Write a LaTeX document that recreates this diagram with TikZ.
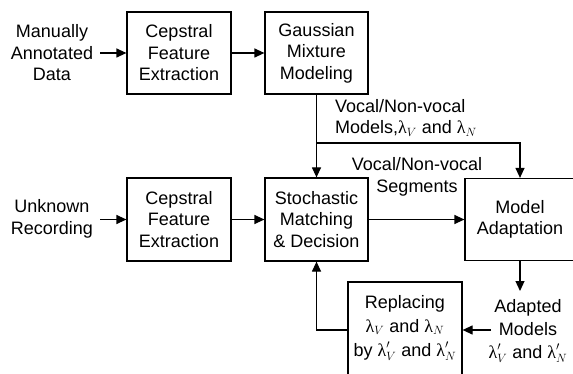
\documentclass[tikz,border=0pt]{standalone}
\usepackage{fontspec}
\setmainfont{Liberation Sans}
\newfontfamily\grk{Liberation Serif}
\usetikzlibrary{arrows.meta}
\newcommand{\lam}[1]{$\mbox{\grk λ}_{#1}$}
\newcommand{\lamp}[1]{$\mbox{\grk λ}'_{#1}$}
\begin{document}
\begin{tikzpicture}[x=1pt,y=-1pt,
  every node/.style={font=\fontsize{18}{21.5}\selectfont},
  blk/.style={draw,line width=1.2pt,minimum width=104pt,minimum height=82pt,align=center,inner sep=0pt},
  txt/.style={align=center,inner sep=0pt},
  arr/.style={line width=1.2pt,-{Triangle[length=10pt,width=9pt]}}]
\useasboundingbox (0,0) rectangle (573,374);
% boxes
\node[blk] (cep1) at (179,53) {Cepstral\\Feature\\Extraction};
\node[blk,minimum width=103pt] (gmm) at (316.5,53) {Gaussian\\Mixture\\Modeling};
\node[blk,minimum height=83pt] (cep2) at (179,219.5) {Cepstral\\Feature\\Extraction};
\node[blk,minimum width=103pt,minimum height=83pt] (stoch) at (316.5,219.5) {Stochastic\\Matching\\\& Decision};
\node[blk,minimum width=110pt,minimum height=82pt] (model) at (520,219.5) {Model\\Adaptation};
\node[draw,line width=1.2pt,minimum width=114pt,minimum height=104pt,inner sep=0pt] (repl) at (405,334) {};
\node[txt,font=\fontsize{18}{24}\selectfont] (repltxt) at (405,328) {Replacing\\\lam{V} and \lam{N}\\by \lamp{V} and \lamp{N}};
% free texts
\node[txt] (manual) at (52,53) {Manually\\Annotated\\Data};
\node[txt] (unknown) at (52,219) {Unknown\\Recording};
\node[txt,align=left,anchor=west] (lab1) at (335,118) {Vocal/Non-vocal\\Models,\lam{V} and \lam{N}};
\node[txt] (lab2) at (417,177) {Vocal/Non-vocal\\Segments};
\node[txt,font=\fontsize{18}{23}\selectfont] (adapted) at (528,331) {Adapted\\Models\\\lamp{V} and \lamp{N}};
% coordinates
\coordinate (man0) at (100,53);
\coordinate (unk0) at (100,219.5);
\coordinate (br) at (316.5,143);
\coordinate (brR) at (520,143);
\coordinate (ad0) at (520,291);
\coordinate (adL) at (491,330);
\coordinate (rpL) at (316.5,330);
% connectors
\draw[arr] (man0) -- (cep1.west);
\draw[arr] (cep1.east) -- (gmm.west);
\draw[arr] (unk0) -- (cep2.west);
\draw[arr] (cep2.east) -- (stoch.west);
\draw[arr] (gmm.south) -- (stoch.north);
\draw[arr] (br) -- (brR) -- (model.north);
\draw[arr] (stoch.east) -- (stoch.east -| model.west);
\draw[arr] (model.south) -- (ad0);
\draw[arr] (adL) -- (adL -| repl.east);
\draw[arr] (rpL -| repl.west) -- (rpL) -- (stoch.south);
\end{tikzpicture}
\end{document}
